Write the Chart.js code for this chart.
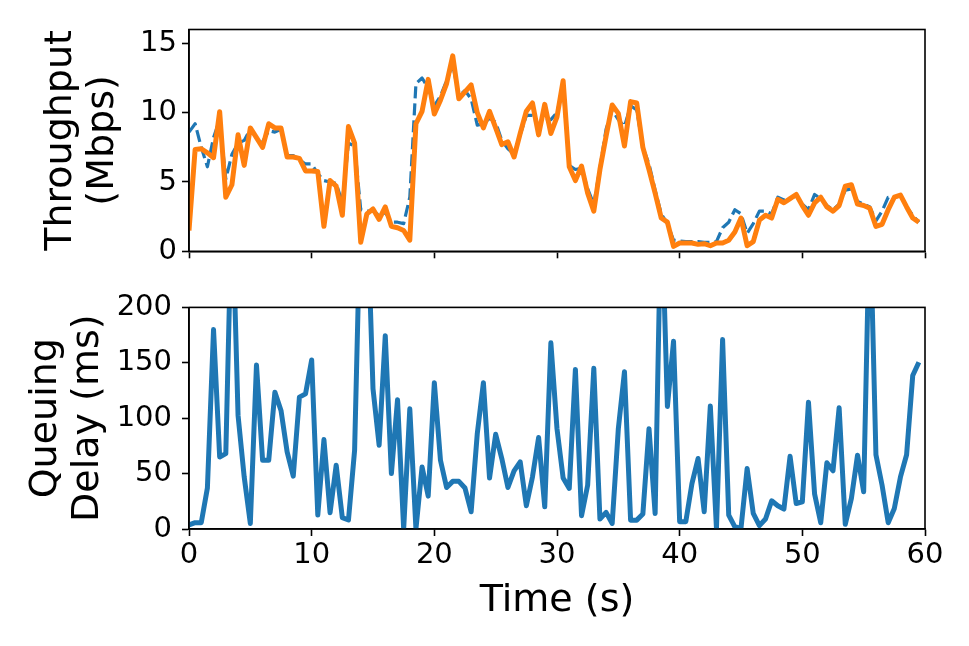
<!DOCTYPE html>
<html><head><meta charset="utf-8">
<script src="https://cdn.jsdelivr.net/npm/chart.js@4.4.1/dist/chart.umd.min.js"></script>
<style>
html,body{margin:0;padding:0;background:#fff;width:969px;height:646px;overflow:hidden}
canvas{position:absolute;left:0}
#c1{top:0}
#c2{top:280px}
</style></head><body>
<canvas id="c1" width="969" height="280" style="width:969px;height:280px"></canvas>
<canvas id="c2" width="969" height="366" style="width:969px;height:366px"></canvas>
<script>
const times = [
 0,0.5,1,1.5,2,2.5,3,3.5,4,4.5,5,5.5,6,6.5,7,7.5,8,8.5,9,9.5,
 10,10.5,11,11.5,12,12.5,13,13.5,14,14.5,15,15.5,16,16.5,17,17.5,18,18.5,19,19.5,
 20,20.5,21,21.5,22,22.5,23,23.5,24,24.5,25,25.5,26,26.5,27,27.5,28,28.5,29,29.5,
 30,30.5,31,31.5,32,32.5,33,33.5,34,34.5,35,35.5,36,36.5,37,37.5,38,38.5,39,39.5,
 40,40.5,41,41.5,42,42.5,43,43.5,44,44.5,45,45.5,46,46.5,47,47.5,48,48.5,49,49.5,
 50,50.5,51,51.5,52,52.5,53,53.5,54,54.5,55,55.5,56,56.5,57,57.5,58,58.5,59,59.5
];
const throughput = [
 1.5,7.35,7.4,7.1,6.75,10.07,3.9,4.8,8.4,6.2,8.9,8.2,7.5,9.2,8.9,8.9,6.8,6.8,6.7,5.8,
 5.8,5.75,1.8,5.1,4.7,2.6,9.0,7.8,0.65,2.7,3.05,2.3,3.2,1.8,1.7,1.5,0.8,9.2,10.1,12.4,
 9.9,10.9,12.1,14.1,11.0,11.5,12.0,10.0,8.9,10.1,8.9,7.7,7.9,6.8,8.5,10.1,10.7,8.4,10.6,8.5,
 9.7,12.3,6.1,5.1,6.15,4.2,2.9,5.9,8.3,10.55,9.95,7.6,10.8,10.7,7.5,5.9,4.2,2.4,2.1,0.35,
 0.6,0.6,0.6,0.5,0.55,0.4,0.6,0.6,0.8,1.4,2.4,0.4,0.7,2.25,2.6,2.4,3.75,3.5,3.8,4.1,
 3.3,2.6,3.5,3.9,3.2,2.9,3.3,4.7,4.8,3.4,3.3,3.1,1.8,1.95,3.0,3.9,4.05,3.2,2.4,2.1
];
const capacity = [
 8.6,9.2,7.5,6.1,8.2,9.5,5.2,7.0,7.8,8.0,8.8,8.2,7.9,8.7,8.6,8.8,6.9,6.9,6.6,6.3,
 6.3,5.6,5.1,5.0,4.9,3.5,7.8,7.6,3.0,2.9,2.9,2.6,2.8,2.1,2.1,2.0,3.9,12.1,12.5,11.8,
 10.5,11.2,12.3,13.5,11.2,11.6,11.0,9.1,9.2,9.6,9.3,8.0,7.4,7.0,8.4,9.8,9.8,9.0,9.4,9.5,
 10.0,11.8,6.2,5.9,6.0,4.5,3.4,6.0,8.8,10.2,9.5,9.0,10.5,10.2,7.5,6.3,4.4,2.7,2.0,0.8,
 0.75,0.7,0.7,0.7,0.65,0.65,0.7,1.7,2.1,3.0,2.7,1.3,2.0,2.9,2.9,2.7,3.9,3.7,3.8,4.0,
 3.4,3.0,4.1,3.8,3.3,3.0,3.4,4.4,4.5,3.6,3.4,3.2,2.2,2.9,3.9,3.9,4.0,3.2,2.6,2.1
];
const delay = [
 3.6,5.7,5.7,37,180,65,68,300,102.5,47,5,148,62,62,123.5,107,69.6,47.7,119,122,
 152.6,12.6,80.7,14.7,57.6,10.2,8.1,71,300,300,126.5,75.6,174.5,50,116.6,0,108.5,0,56,29.7,
 132,62,37.5,43,43,37,15.6,86,132,46,85.5,63.6,37.5,52.5,60.6,21,47,82.5,20,168,
 90.5,46,36.6,144,12,39.6,145,9,15,5,90.5,142,8,8,13.5,90.5,14,300,110.6,169.4,
 6.6,6.6,41,63.6,15.6,111,0.6,171,12.6,2,0.6,54.6,14,3,9,25.5,21,18,65.7,23,
 24.6,114.5,31.5,5.7,59.7,52.5,109.4,4.2,27.6,66.6,33.6,290,67,39.6,5.7,18.6,47,67,138.5,150.5
];
const xTicks = [0,10,20,30,40,50,60];
const tputTicks = [0,5,10,15];
const delayTicks = [0,50,100,150,200];
const tputTitle = ['Throughput','(Mbps)'];
const delayTitle = ['Queuing','Delay (ms)'];
const xTitle = 'Time (s)';

Chart.defaults.font.family = "'DejaVu Sans', sans-serif";
Chart.defaults.color = '#000';

const pts = arr => arr.map((v,i)=>({x: times[i], y: v}));
const SPINE = 1.6;
const frame = {
  id: 'frame',
  afterDraw(chart){
    const {ctx, chartArea: a} = chart;
    ctx.save();
    ctx.strokeStyle = '#000';
    ctx.lineWidth = SPINE;
    ctx.strokeRect(a.left, a.top, a.right - a.left, a.bottom - a.top);
    ctx.restore();
  }
};
const gridOpts = {drawOnChartArea:false, drawTicks:true, tickLength:7, tickColor:'#000', tickWidth:SPINE};
const borderOpts = {display:true, color:'#000', width:SPINE};

function xScale(showLabels, height){
  return {
    type:'linear', min:0, max:60,
    afterBuildTicks: s => { s.ticks = xTicks.map(v=>({value:v})); },
    ticks:{display:showLabels, font:{size:29}, color:'#000', padding:2, maxRotation:0, autoSkip:false},
    grid: gridOpts, border: borderOpts,
    title: showLabels ? {display:true, text:xTitle, font:{size:38, lineHeight:1.1}, color:'#000', padding:{top:0,bottom:24}} : {display:false},
    afterFit: s => { s.height = height; }
  };
}
function yScale(min, max, tickArr, title, titlePad, tickPad){
  return {
    type:'linear', min:min, max:max,
    afterBuildTicks: s => { s.ticks = tickArr.map(v=>({value:v})); },
    ticks:{font:{size:29}, color:'#000', padding:tickPad, autoSkip:false},
    grid: gridOpts, border: borderOpts,
    title:{display:true, text:title, font:{size:38, lineHeight:1.1}, color:'#000', padding:{top:titlePad,bottom:0}},
    afterFit: s => { s.width = 189; }
  };
}
const common = {
  responsive:false, animation:false, devicePixelRatio:1,
  plugins:{legend:{display:false}, tooltip:{enabled:false}},
  elements:{point:{radius:0}, line:{tension:0, borderJoinStyle:'round'}}
};

new Chart(document.getElementById('c1'), {
  type:'line',
  data:{datasets:[
    {label:'Throughput', data:pts(throughput), borderColor:'#ff7f0e', borderWidth:5, order:0, clip:0},
    {label:'Capacity', data:pts(capacity), borderColor:'#1f77b4', borderWidth:3.2, borderDash:[12,5], order:1, clip:0}
  ]},
  options:Object.assign({}, common, {
    layout:{padding:{top:29.5, right:44, left:0, bottom:0}},
    scales:{x:xScale(false, 28.7), y:yScale(0,16,tputTicks,tputTitle,40,5)}
  }),
  plugins:[frame]
});

new Chart(document.getElementById('c2'), {
  type:'line',
  data:{datasets:[
    {label:'Queuing Delay', data:pts(delay), borderColor:'#1f77b4', borderWidth:5, clip:0}
  ]},
  options:Object.assign({}, common, {
    layout:{padding:{top:26.7, right:44, left:0, bottom:0}},
    scales:{x:xScale(true, 117), y:yScale(0,200,delayTicks,delayTitle,25,10)}
  }),
  plugins:[frame]
});
</script>
</body></html>
